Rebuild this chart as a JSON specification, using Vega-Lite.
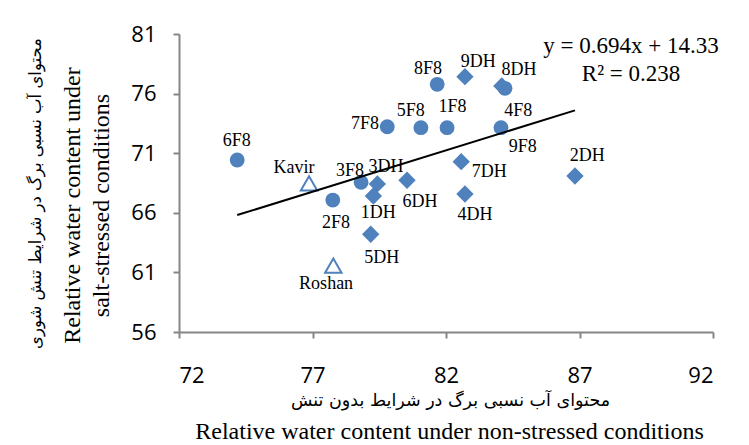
{
  "$schema": "https://vega.github.io/schema/vega-lite/v6.json",
  "width": 534,
  "height": 298,
  "autosize": {"type": "none"},
  "padding": {"left": 179, "top": 34, "right": 36, "bottom": 113},
  "background": "white",
  "config": {
    "view": {"stroke": null},
    "axis": {
      "grid": false,
      "domainColor": "#868686",
      "domainWidth": 2,
      "tickColor": "#868686",
      "tickWidth": 2,
      "tickSize": 6,
      "labelFont": "Open Sans",
      "labelFontSize": 22,
      "labelColor": "#000000",
      "titleColor": "#000000",
      "titleFontWeight": "normal"
    }
  },
  "datasets": {
    "pts": [
      {"name": "6F8", "grp": "F8", "x": 74.18, "y": 70.43, "lx": 74.16, "ly": 72.05},
      {"name": "8F8", "grp": "F8", "x": 81.67, "y": 76.78, "lx": 81.33, "ly": 78.06},
      {"name": "4F8", "grp": "F8", "x": 84.21, "y": 76.44, "lx": 84.71, "ly": 74.57},
      {"name": "7F8", "grp": "F8", "x": 79.80, "y": 73.22, "lx": 78.97, "ly": 73.45},
      {"name": "5F8", "grp": "F8", "x": 81.06, "y": 73.14, "lx": 80.68, "ly": 74.57},
      {"name": "1F8", "grp": "F8", "x": 82.04, "y": 73.14, "lx": 82.24, "ly": 74.85},
      {"name": "9F8", "grp": "F8", "x": 84.06, "y": 73.14, "lx": 84.87, "ly": 71.50},
      {"name": "3F8", "grp": "F8", "x": 78.82, "y": 68.56, "lx": 78.40, "ly": 69.53},
      {"name": "2F8", "grp": "F8", "x": 77.76, "y": 67.07, "lx": 77.88, "ly": 65.17},
      {"name": "9DH", "grp": "DH", "x": 82.71, "y": 77.42, "lx": 83.21, "ly": 78.63},
      {"name": "8DH", "grp": "DH", "x": 84.09, "y": 76.64, "lx": 84.73, "ly": 77.98},
      {"name": "3DH", "grp": "DH", "x": 79.43, "y": 68.42, "lx": 79.75, "ly": 69.87},
      {"name": "1DH", "grp": "DH", "x": 79.28, "y": 67.41, "lx": 79.46, "ly": 66.01},
      {"name": "6DH", "grp": "DH", "x": 80.54, "y": 68.73, "lx": 81.03, "ly": 66.93},
      {"name": "7DH", "grp": "DH", "x": 82.57, "y": 70.29, "lx": 83.62, "ly": 69.45},
      {"name": "4DH", "grp": "DH", "x": 82.71, "y": 67.58, "lx": 83.09, "ly": 65.82},
      {"name": "2DH", "grp": "DH", "x": 86.83, "y": 69.09, "lx": 87.29, "ly": 70.77},
      {"name": "5DH", "grp": "DH", "x": 79.18, "y": 64.20, "lx": 79.59, "ly": 62.18},
      {"name": "Kavir", "grp": "Check", "x": 76.87, "y": 68.47, "lx": 76.31, "ly": 69.73},
      {"name": "Roshan", "grp": "Check", "x": 77.78, "y": 61.56, "lx": 77.51, "ly": 60.00}
    ],
    "trend": [
      {"x": 74.18, "y": 65.81},
      {"x": 86.83, "y": 74.59}
    ],
    "eq": [
      {"x": 88.93, "y": 79.38, "t": ["y = 0.694x + 14.33", "R² = 0.238"]}
    ]
  },
  "layer": [
    {
      "data": {"name": "pts"},
      "transform": [{"filter": "datum.grp === 'DH'"}],
      "mark": {"type": "point", "shape": "diamond", "filled": true, "color": "#4F81BD", "opacity": 1, "size": 300},
      "encoding": {
        "x": {
          "field": "x", "type": "quantitative",
          "scale": {"domain": [72, 92], "nice": false, "zero": false},
          "axis": {
            "values": [72, 77, 82, 87, 92],
            "labelPadding": 27,
            "title": "محتوای آب نسبی برگ در شرایط بدون تنش",
            "titleFont": "DejaVu Sans",
            "titleFontSize": 17.5,
            "titleX": 271,
            "titleY": 68,
            "titleAlign": "center",
            "titleBaseline": "middle"
          }
        },
        "y": {
          "field": "y", "type": "quantitative",
          "scale": {"domain": [56, 81], "nice": false, "zero": false},
          "axis": {
            "values": [56, 61, 66, 71, 76, 81],
            "labelPadding": 17,
            "title": ["Relative water content under", "salt-stressed conditions"],
            "titleFont": "Liberation Serif",
            "titleFontSize": 24,
            "titleLineHeight": 29,
            "titleAngle": 270,
            "titleX": -100,
            "titleY": 171,
            "titleAlign": "center",
            "titleBaseline": "alphabetic"
          }
        }
      }
    },
    {
      "data": {"name": "pts"},
      "transform": [{"filter": "datum.grp === 'F8'"}],
      "mark": {"type": "point", "shape": "circle", "filled": true, "color": "#4F81BD", "opacity": 1, "size": 220},
      "encoding": {
        "x": {"field": "x", "type": "quantitative", "scale": {"domain": [72, 92], "nice": false, "zero": false}, "axis": null},
        "y": {"field": "y", "type": "quantitative", "scale": {"domain": [56, 81], "nice": false, "zero": false}, "axis": null}
      }
    },
    {
      "data": {"name": "pts"},
      "transform": [{"filter": "datum.grp === 'Check'"}],
      "mark": {"type": "point", "shape": "triangle-up", "filled": false, "stroke": "#4F81BD", "strokeWidth": 2, "opacity": 1, "size": 270},
      "encoding": {
        "x": {"field": "x", "type": "quantitative", "scale": {"domain": [72, 92], "nice": false, "zero": false}, "axis": null},
        "y": {"field": "y", "type": "quantitative", "scale": {"domain": [56, 81], "nice": false, "zero": false}, "axis": null}
      }
    },
    {
      "data": {"name": "trend"},
      "mark": {"type": "line", "color": "#000000", "strokeWidth": 2},
      "encoding": {
        "x": {
          "field": "x", "type": "quantitative",
          "scale": {"domain": [72, 92], "nice": false, "zero": false},
          "axis": {
            "orient": "bottom",
            "domain": false, "ticks": false, "labels": false,
            "title": "Relative water content under non-stressed conditions",
            "titleFont": "Liberation Serif",
            "titleFontSize": 24,
            "titleX": 270,
            "titleY": 106,
            "titleAlign": "center",
            "titleBaseline": "alphabetic"
          }
        },
        "y": {
          "field": "y", "type": "quantitative",
          "scale": {"domain": [56, 81], "nice": false, "zero": false},
          "axis": {
            "orient": "left",
            "domain": false, "ticks": false, "labels": false,
            "title": "محتوای آب نسبی برگ در شرایط تنش شوری",
            "titleFont": "DejaVu Sans",
            "titleFontSize": 16.5,
            "titleAngle": 270,
            "titleX": -144,
            "titleY": 159,
            "titleAlign": "center",
            "titleBaseline": "middle"
          }
        }
      }
    },
    {
      "data": {"name": "pts"},
      "mark": {"type": "text", "font": "Liberation Serif", "fontSize": 18, "color": "#000000", "align": "center", "baseline": "middle"},
      "encoding": {
        "x": {"field": "lx", "type": "quantitative", "scale": {"domain": [72, 92], "nice": false, "zero": false}, "axis": null},
        "y": {"field": "ly", "type": "quantitative", "scale": {"domain": [56, 81], "nice": false, "zero": false}, "axis": null},
        "text": {"field": "name"}
      }
    },
    {
      "data": {"name": "eq"},
      "mark": {"type": "text", "font": "Liberation Serif", "fontSize": 23, "color": "#000000", "align": "center", "baseline": "alphabetic", "lineHeight": 27.7},
      "encoding": {
        "x": {"field": "x", "type": "quantitative", "scale": {"domain": [72, 92], "nice": false, "zero": false}, "axis": null},
        "y": {"field": "y", "type": "quantitative", "scale": {"domain": [56, 81], "nice": false, "zero": false}, "axis": null},
        "text": {"field": "t"}
      }
    }
  ],
  "resolve": {"axis": {"x": "independent", "y": "independent"}}
}
